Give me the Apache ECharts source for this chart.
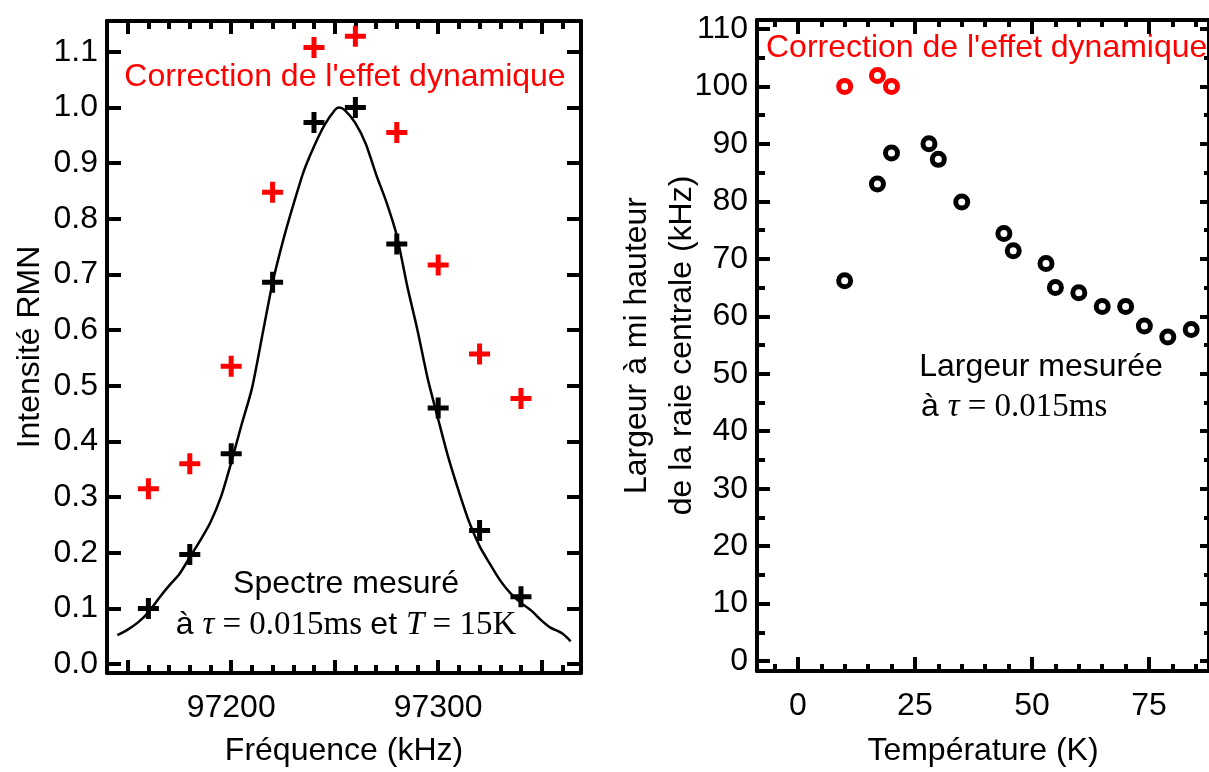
<!DOCTYPE html>
<html>
<head>
<meta charset="utf-8">
<script src="https://cdn.jsdelivr.net/npm/echarts@6/dist/echarts.min.js"></script>
<style>
  html, body { margin: 0; padding: 0; background: #fff; }
  #chart { width: 1209px; height: 772px; }
</style>
</head>
<body>
<div id="chart"></div>
<script>
// spectre (panneau gauche)
var freqPoints = [97160, 97180, 97200, 97220, 97240, 97260, 97280, 97300, 97320, 97340];
var measured = [0.100, 0.197, 0.378, 0.686, 0.973, 1.000, 0.755, 0.460, 0.240, 0.121];
var corrected = [0.315, 0.360, 0.535, 0.848, 1.108, 1.128, 0.955, 0.717, 0.557, 0.477];

var curveFreq = [97145, 97150, 97155, 97160, 97165, 97170, 97175, 97180, 97185, 97190, 97195,
  97200, 97205, 97210, 97215, 97220, 97225, 97230, 97235, 97240, 97245, 97250, 97252,
  97255, 97260, 97265, 97270, 97275, 97280, 97285, 97290, 97295, 97300, 97305, 97310,
  97315, 97320, 97325, 97330, 97335, 97340, 97345, 97350, 97354, 97360, 97364];
var curveInt = [0.052, 0.062, 0.075, 0.093, 0.118, 0.141, 0.162, 0.192, 0.222, 0.255, 0.300,
  0.362, 0.430, 0.495, 0.590, 0.685, 0.760, 0.825, 0.885, 0.930, 0.968, 0.995, 1.000,
  0.995, 0.972, 0.935, 0.880, 0.830, 0.770, 0.680, 0.600, 0.512, 0.440, 0.370, 0.310,
  0.255, 0.212, 0.180, 0.150, 0.127, 0.110, 0.096, 0.078, 0.066, 0.055, 0.041];

// largeur vs temperature (panneau droit)
var tempMeasured = [10, 17, 20, 28, 30, 35, 44, 46, 53, 55, 60, 65, 70, 74, 79, 84];
var widthMeasured = [66.2, 83.0, 88.4, 90.0, 87.3, 79.9, 74.4, 71.4, 69.2, 65.0, 64.1, 61.7, 61.7, 58.3, 56.4, 57.7];
var tempCorrected = [10, 17, 20];
var widthCorrected = [100.0, 101.9, 100.0];

// graduations
var leftXLabels = [97200, 97300];
var leftXMid = [97150, 97200, 97250, 97300, 97350];
var leftXMinor = [97140, 97150, 97160, 97170, 97180, 97190, 97200, 97210, 97220, 97230, 97240, 97250,
  97260, 97270, 97280, 97290, 97300, 97310, 97320, 97330, 97340, 97350, 97360];
var leftYTicks = [0, 0.1, 0.2, 0.3, 0.4, 0.5, 0.6, 0.7, 0.8, 0.9, 1.0, 1.1];
var rightXLabels = [0, 25, 50, 75];
var rightXMinor = [-5, 0, 5, 10, 15, 20, 25, 30, 35, 40, 45, 50, 55, 60, 65, 70, 75, 80, 85];
var rightYLabels = [0, 10, 20, 30, 40, 50, 60, 70, 80, 90, 100, 110];
var rightYMinor = [5, 15, 25, 35, 45, 55, 65, 75, 85, 95, 105];

function zip(a, b) { return a.map(function (v, i) { return [v, b[i]] }) }

var SANS = '"Liberation Sans", Arial, sans-serif'
var SERIF = '"Liberation Serif", "Times New Roman", serif'
var cross = 'path://M8,0H13V8H21V13H13V21H8V13H0V8H8Z'

var lineW = 4
var lbl = { color: '#000', fontSize: 32, fontFamily: SANS }

// axe avec ticks a l'interieur, overlay possible
function xAx (grid, pos, min, max, ticks, len, opts) {
  opts = opts || {}
  return {
    type: 'value', gridIndex: grid, position: pos, min: min, max: max,
    axisLine: { show: !!opts.line, onZero: false, lineStyle: { color: '#000', width: lineW } },
    axisTick: { show: true, inside: true, length: len, customValues: ticks, lineStyle: { color: '#000', width: lineW } },
    axisLabel: opts.labels ? Object.assign({
      customValues: opts.labels, margin: opts.margin || 19,
      formatter: opts.fmt || function (v) { return String(v) }
    }, lbl) : { show: false },
    splitLine: { show: false },
    name: opts.name, nameLocation: 'middle', nameGap: opts.nameGap,
    nameMoveOverlap: opts.noMove ? false : undefined,
    nameTextStyle: Object.assign({}, lbl, opts.nameStyle || {})
  }
}
function yAx (grid, pos, min, max, ticks, len, opts) {
  var a = xAx(grid, pos, min, max, ticks, len, opts)
  a.nameRotate = 90
  return a
}

var chart = echarts.init(document.getElementById('chart'), null, { renderer: 'canvas' })

chart.setOption({
  backgroundColor: '#fff',
  animation: false,
  grid: [
    { left: 107, top: 21, width: 474, height: 654 },
    { left: 757, top: 20, width: 453, height: 657 }
  ],
  xAxis: [
    xAx(0, 'bottom', 97140, 97369, leftXMinor, 8, { line: true, labels: leftXLabels, name: 'Fréquence (kHz)', nameGap: 62 }),
    xAx(0, 'bottom', 97140, 97369, leftXMid, 13),
    xAx(0, 'top', 97140, 97369, leftXMinor, 8, { line: true }),
    xAx(0, 'top', 97140, 97369, leftXMid, 13),
    xAx(1, 'bottom', -8.72, 87.8, rightXMinor, 7, { line: true, labels: rightXLabels, name: 'Température (K)', nameGap: 64 }),
    xAx(1, 'bottom', -8.72, 87.8, rightXLabels, 14),
    xAx(1, 'top', -8.72, 87.8, rightXMinor, 7, { line: true }),
    xAx(1, 'top', -8.72, 87.8, rightXLabels, 14)
  ],
  yAxis: [
    yAx(0, 'left', -0.016, 1.1555, leftYTicks, 14, {
      line: true, labels: leftYTicks, margin: 9, name: 'Intensité RMN', nameGap: 61,
      fmt: function (v) { return v.toFixed(1) }
    }),
    yAx(0, 'right', -0.016, 1.1555, leftYTicks, 14, { line: true }),
    yAx(1, 'left', -1.72, 111.55, rightYMinor, 8, {
      line: true, labels: rightYLabels, margin: 9, noMove: true,
      name: 'Largeur à mi hauteur\nde la raie centrale (kHz)', nameGap: 52,
      nameStyle: { lineHeight: 45 }
    }),
    yAx(1, 'left', -1.72, 111.55, rightYLabels, 13),
    yAx(1, 'right', -1.72, 111.55, rightYMinor, 5, { line: true }),
    yAx(1, 'right', -1.72, 111.55, rightYLabels, 9)
  ],
  series: [
    {
      type: 'line', xAxisIndex: 0, yAxisIndex: 0, data: zip(curveFreq, curveInt),
      smooth: 0.25, showSymbol: false, lineStyle: { color: '#000', width: 2.5 }, z: 2
    },
    {
      type: 'scatter', xAxisIndex: 0, yAxisIndex: 0, data: zip(freqPoints, corrected),
      symbol: cross, symbolSize: 21, itemStyle: { color: '#ff0000', opacity: 1 }, z: 3
    },
    {
      type: 'scatter', xAxisIndex: 0, yAxisIndex: 0, data: zip(freqPoints, measured),
      symbol: cross, symbolSize: 21, itemStyle: { color: '#000', opacity: 1 }, z: 3
    },
    {
      type: 'scatter', xAxisIndex: 4, yAxisIndex: 2, data: zip(tempMeasured, widthMeasured),
      symbol: 'circle', symbolSize: 12,
      itemStyle: { color: 'rgba(0,0,0,0)', borderColor: '#000', borderWidth: 5, opacity: 1 }, z: 3
    },
    {
      type: 'scatter', xAxisIndex: 4, yAxisIndex: 2, data: zip(tempCorrected, widthCorrected),
      symbol: 'circle', symbolSize: 12,
      itemStyle: { color: 'rgba(0,0,0,0)', borderColor: '#ff0000', borderWidth: 5, opacity: 1 }, z: 3
    }
  ],
  graphic: [
    {
      type: 'text', x: 345, y: 77, z: 10,
      style: { text: "Correction de l'effet dynamique", fill: '#ff0000', fontSize: 32, fontFamily: SANS, align: 'center', verticalAlign: 'middle' }
    },
    {
      type: 'text', x: 766, y: 48, z: 10,
      style: { text: "Correction de l'effet dynamique", fill: '#ff0000', fontSize: 32, fontFamily: SANS, align: 'left', verticalAlign: 'middle' }
    },
    {
      type: 'text', x: 346, y: 584, z: 10,
      style: { text: 'Spectre mesuré', fill: '#000', fontSize: 32, fontFamily: SANS, align: 'center', verticalAlign: 'middle' }
    },
    {
      type: 'text', x: 346, y: 625, z: 10,
      style: {
        text: '{s|à }{ti|τ}{t| = 0.015ms }{s|et }{ti|T}{t| = 15K}',
        align: 'center', verticalAlign: 'middle',
        rich: {
          s: { fontSize: 32, fontFamily: SANS, fill: '#000' },
          t: { fontSize: 33, fontFamily: SERIF, fill: '#000' },
          ti: { fontSize: 33, fontFamily: SERIF, fontStyle: 'italic', fill: '#000' }
        }
      }
    },
    {
      type: 'text', x: 1041, y: 367, z: 10,
      style: { text: 'Largeur mesurée', fill: '#000', fontSize: 32, fontFamily: SANS, align: 'center', verticalAlign: 'middle' }
    },
    {
      type: 'text', x: 921, y: 407, z: 10,
      style: {
        text: '{s|à }{ti|τ}{t| = 0.015ms}',
        align: 'left', verticalAlign: 'middle',
        rich: {
          s: { fontSize: 32, fontFamily: SANS, fill: '#000' },
          t: { fontSize: 33, fontFamily: SERIF, fill: '#000' },
          ti: { fontSize: 33, fontFamily: SERIF, fontStyle: 'italic', fill: '#000' }
        }
      }
    }
  ]
})
</script>
</body>
</html>
